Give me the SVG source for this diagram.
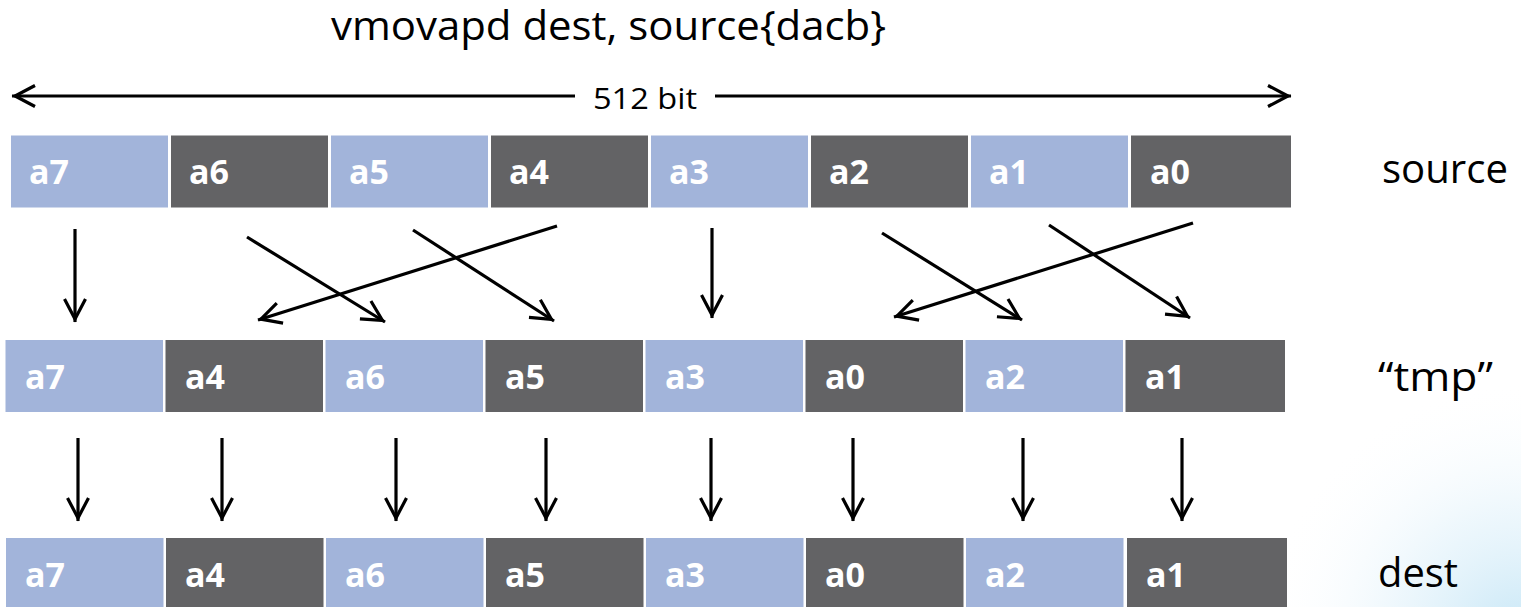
<svg xmlns="http://www.w3.org/2000/svg" width="1521" height="607" viewBox="0 0 1521 607">
  <defs>
    <style>
      .b { fill: #A2B4DA; }
      .d { fill: #636365; }
      .cl { font-family: "Open Sans", "Liberation Sans", sans-serif; font-weight: bold; font-size: 34px; fill: #FFFFFF; }
      .t { font-family: "Open Sans", "Liberation Sans", sans-serif; font-size: 40px; fill: #000000; }
      .ln { stroke: #000; stroke-width: 3.2; fill: none; }
    </style>
    <marker id="ah" markerUnits="userSpaceOnUse" viewBox="-26 -15 32 30" markerWidth="32" markerHeight="30" refX="3" refY="0" orient="auto">
      <path d="M-20,-10.5 L0,0 L-20,10.5" fill="none" stroke="#000" stroke-width="3.2"/>
    </marker>
    <radialGradient id="bg" cx="1521" cy="640" r="260" gradientUnits="userSpaceOnUse">
      <stop offset="0" stop-color="#BFE3F5" stop-opacity="0.9"/>
      <stop offset="0.5" stop-color="#DDF0FA" stop-opacity="0.5"/>
      <stop offset="1" stop-color="#FFFFFF" stop-opacity="0"/>
    </radialGradient>
  </defs>
  <rect x="0" y="0" width="1521" height="607" fill="#FFFFFF"/>
  <rect x="1260" y="380" width="261" height="227" fill="url(#bg)"/>

  <g id="title">
    <text class="t" x="331" y="40" textLength="555" lengthAdjust="spacingAndGlyphs">vmovapd dest, source{dacb}</text>
  </g>

  <g id="width-arrow">
    <line class="ln" x1="575" y1="96" x2="12" y2="96" marker-end="url(#ah)"/>
    <line class="ln" x1="715" y1="96" x2="1291" y2="96" marker-end="url(#ah)"/>
    <text class="t" x="593" y="109" font-size="30" textLength="104" lengthAdjust="spacingAndGlyphs" style="font-size:30px">512 bit</text>
  </g>

  <g id="source">
    <rect class="b" x="11" y="135.5" width="157" height="72"/>
    <rect class="d" x="171" y="135.5" width="157" height="72"/>
    <rect class="b" x="331" y="135.5" width="157" height="72"/>
    <rect class="d" x="491" y="135.5" width="157" height="72"/>
    <rect class="b" x="651" y="135.5" width="157" height="72"/>
    <rect class="d" x="811" y="135.5" width="157" height="72"/>
    <rect class="b" x="971" y="135.5" width="157" height="72"/>
    <rect class="d" x="1131" y="135.5" width="160" height="72"/>
    <text class="cl" x="29" y="184">a7</text>
    <text class="cl" x="189" y="184">a6</text>
    <text class="cl" x="349" y="184">a5</text>
    <text class="cl" x="509" y="184">a4</text>
    <text class="cl" x="669" y="184">a3</text>
    <text class="cl" x="829" y="184">a2</text>
    <text class="cl" x="989" y="184">a1</text>
    <text class="cl" x="1150" y="184">a0</text>
    <text class="t" x="1382" y="183" textLength="126" lengthAdjust="spacingAndGlyphs">source</text>
  </g>

  <g id="tmp">
    <rect class="b" x="5.5" y="340" width="157.5" height="72"/>
    <rect class="d" x="165.5" y="340" width="157.5" height="72"/>
    <rect class="b" x="325.5" y="340" width="157.5" height="72"/>
    <rect class="d" x="485.5" y="340" width="157.5" height="72"/>
    <rect class="b" x="645.5" y="340" width="157.5" height="72"/>
    <rect class="d" x="805.5" y="340" width="157.5" height="72"/>
    <rect class="b" x="965.5" y="340" width="157.5" height="72"/>
    <rect class="d" x="1125.5" y="340" width="159.5" height="72"/>
    <text class="cl" x="25" y="389">a7</text>
    <text class="cl" x="185" y="389">a4</text>
    <text class="cl" x="345" y="389">a6</text>
    <text class="cl" x="505" y="389">a5</text>
    <text class="cl" x="665" y="389">a3</text>
    <text class="cl" x="825" y="389">a0</text>
    <text class="cl" x="985" y="389">a2</text>
    <text class="cl" x="1145" y="389">a1</text>
    <text class="t" x="1378" y="391" textLength="115" lengthAdjust="spacingAndGlyphs">“tmp”</text>
  </g>

  <g id="dest">
    <rect class="b" x="6" y="538" width="157.5" height="72"/>
    <rect class="d" x="166" y="538" width="157.5" height="72"/>
    <rect class="b" x="326" y="538" width="157.5" height="72"/>
    <rect class="d" x="486" y="538" width="157.5" height="72"/>
    <rect class="b" x="646" y="538" width="157.5" height="72"/>
    <rect class="d" x="806" y="538" width="157.5" height="72"/>
    <rect class="b" x="966" y="538" width="157.5" height="72"/>
    <rect class="d" x="1127" y="538" width="160" height="72"/>
    <text class="cl" x="25" y="587">a7</text>
    <text class="cl" x="185" y="587">a4</text>
    <text class="cl" x="345" y="587">a6</text>
    <text class="cl" x="505" y="587">a5</text>
    <text class="cl" x="665" y="587">a3</text>
    <text class="cl" x="825" y="587">a0</text>
    <text class="cl" x="985" y="587">a2</text>
    <text class="cl" x="1146" y="587">a1</text>
    <text class="t" x="1378" y="587" textLength="80" lengthAdjust="spacingAndGlyphs">dest</text>
  </g>

  <g id="connectors">
    <line class="ln" x1="75" y1="229" x2="75" y2="322" marker-end="url(#ah)"/>
    <line class="ln" x1="247" y1="237" x2="385" y2="322" marker-end="url(#ah)"/>
    <line class="ln" x1="413" y1="230" x2="554" y2="321" marker-end="url(#ah)"/>
    <line class="ln" x1="557" y1="226" x2="258" y2="320" marker-end="url(#ah)"/>
    <line class="ln" x1="712" y1="228" x2="712" y2="318" marker-end="url(#ah)"/>
    <line class="ln" x1="882" y1="233" x2="1022" y2="320" marker-end="url(#ah)"/>
    <line class="ln" x1="1049" y1="225" x2="1190" y2="318" marker-end="url(#ah)"/>
    <line class="ln" x1="1193" y1="223" x2="894" y2="317" marker-end="url(#ah)"/>

    <line class="ln" x1="78" y1="438" x2="78" y2="521" marker-end="url(#ah)"/>
    <line class="ln" x1="222" y1="438" x2="222" y2="521" marker-end="url(#ah)"/>
    <line class="ln" x1="396" y1="438" x2="396" y2="521" marker-end="url(#ah)"/>
    <line class="ln" x1="546" y1="438" x2="546" y2="521" marker-end="url(#ah)"/>
    <line class="ln" x1="711" y1="438" x2="711" y2="521" marker-end="url(#ah)"/>
    <line class="ln" x1="853" y1="438" x2="853" y2="521" marker-end="url(#ah)"/>
    <line class="ln" x1="1023" y1="438" x2="1023" y2="521" marker-end="url(#ah)"/>
    <line class="ln" x1="1182" y1="438" x2="1182" y2="521" marker-end="url(#ah)"/>
  </g>
</svg>
